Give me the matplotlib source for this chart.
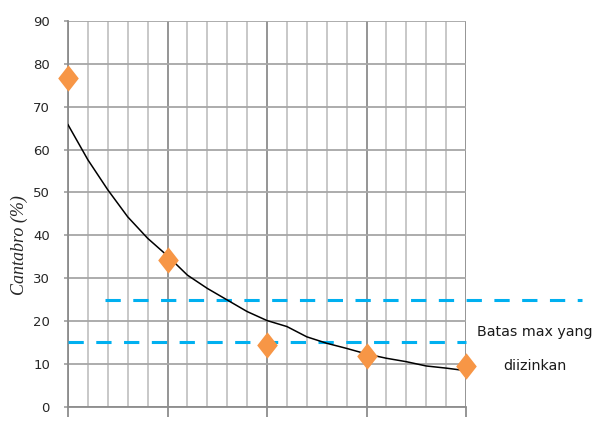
import matplotlib
matplotlib.use('Agg')
import matplotlib.pyplot as plt
from matplotlib.ticker import MultipleLocator

# Data
sample_x = [0, 1, 2, 3, 4]
cantabro = [76.6, 34.2, 14.4, 11.8, 9.5]

# trend curve (every minor grid step)
trend_x = [0.0, 0.2, 0.4, 0.6, 0.8, 1.0, 1.2, 1.4, 1.6, 1.8, 2.0,
           2.2, 2.4, 2.6, 2.8, 3.0, 3.2, 3.4, 3.6, 3.8, 4.0]
trend_y = [65.8, 57.6, 50.6, 44.3, 39.3, 35.2, 30.7, 27.6, 24.9, 22.2, 20.1,
           18.7, 16.3, 14.8, 13.6, 12.3, 11.3, 10.5, 9.5, 9.0, 8.4]

# limit lines
limit_upper = 25
limit_lower = 15
upper_x = [0.37, 5.17]
lower_x = [0, 4]

label_text = 'Batas max yang'
label_text2 = 'diizinkan'

plt.rcParams['lines.scale_dashes'] = False

fig = plt.figure(figsize=(5.97, 4.32), dpi=100)
ax = fig.add_axes([0.1139, 0.0586, 0.6667, 0.8928])

ax.set_xlim(0, 4)
ax.set_ylim(0, 90)

# grid
ax.xaxis.set_major_locator(MultipleLocator(1))
ax.xaxis.set_minor_locator(MultipleLocator(0.2))
ax.yaxis.set_major_locator(MultipleLocator(10))
ax.grid(which='major', axis='y', color='#a6a6a6', linewidth=1.3, zorder=0)
ax.grid(which='major', axis='x', color='#8c8c8c', linewidth=1.3, zorder=0)
ax.grid(which='minor', axis='x', color='#c4c4c4', linewidth=1.3, zorder=0)
ax.set_axisbelow(True)

for s in ['top', 'right']:
    ax.spines[s].set_visible(False)
ax.spines['left'].set_color('#8c8c8c')
ax.spines['bottom'].set_color('#8c8c8c')
ax.spines['left'].set_linewidth(1.3)
ax.spines['bottom'].set_linewidth(1.3)

ax.tick_params(axis='x', which='major', direction='out', length=7, width=1.3,
               color='#8c8c8c', labelbottom=False)
ax.tick_params(axis='x', which='minor', length=0)
ax.tick_params(axis='y', direction='out', length=3, width=1.3, color='#a6a6a6',
               pad=10, labelsize=9.5, labelcolor='#262626')

# limit lines
ax.plot(upper_x, [limit_upper, limit_upper], color='#00b0f0', linewidth=2.2,
        dashes=(11, 9), clip_on=False, zorder=3)
ax.plot(lower_x, [limit_lower, limit_lower], color='#00b0f0', linewidth=2.2,
        dashes=(11, 9), clip_on=False, zorder=3)

# trend curve
ax.plot(trend_x, trend_y, color='black', linewidth=1.1, zorder=4)

# data points
diamond = [(0, 1), (0.78, 0), (0, -1), (-0.78, 0), (0, 1)]
ax.plot(sample_x, cantabro, linestyle='none', marker=diamond, markersize=19,
        color='#f79646', markeredgewidth=0, clip_on=False, zorder=5)

ax.set_ylabel('Cantabro (%)', family='Liberation Serif', style='italic',
              fontsize=13, color='#262626')
ax.yaxis.set_label_coords(-0.10, 0.42)

fig.text(535 / 597, 1 - 332 / 432, label_text, ha='center', va='center',
         fontsize=10.3, color='#1a1a1a')
fig.text(535 / 597, 1 - 366 / 432, label_text2, ha='center', va='center',
         fontsize=10.3, color='#1a1a1a')

fig.savefig('out.png', dpi=100)
